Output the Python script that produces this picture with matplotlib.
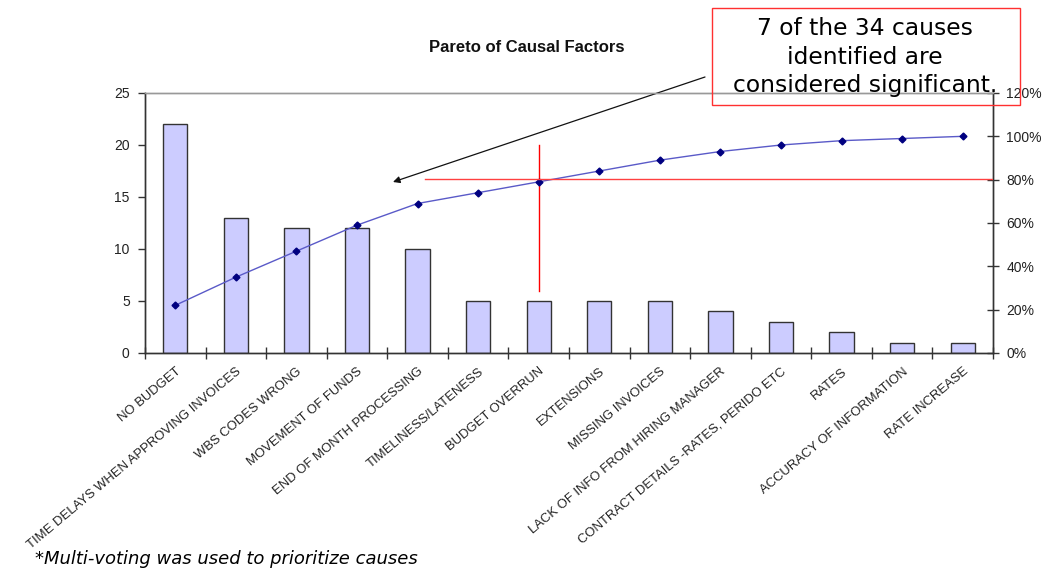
import matplotlib
matplotlib.use("Agg")
import matplotlib.pyplot as plt
from matplotlib.patches import Rectangle
from matplotlib.ticker import FixedLocator, NullFormatter

categories = [
    "NO BUDGET",
    "TIME DELAYS WHEN APPROVING INVOICES",
    "WBS CODES WRONG",
    "MOVEMENT OF FUNDS",
    "END OF MONTH PROCESSING",
    "TIMELINESS/LATENESS",
    "BUDGET OVERRUN",
    "EXTENSIONS",
    "MISSING INVOICES",
    "LACK OF INFO FROM HIRING MANAGER",
    "CONTRACT DETAILS -RATES, PERIDO ETC",
    "RATES",
    "ACCURACY OF INFORMATION",
    "RATE INCREASE",
]
counts = [22, 13, 12, 12, 10, 5, 5, 5, 5, 4, 3, 2, 1, 1]
cumulative_pct = [22, 35, 47, 59, 69, 74, 79, 84, 89, 93, 96, 98, 99, 100]
left_ticks = [0, 5, 10, 15, 20, 25]
right_ticks = [0, 20, 40, 60, 80, 100, 120]

title = "Pareto of Causal Factors"
callout = "7 of the 34 causes\nidentified are\nconsidered significant."
footnote = "*Multi-voting was used to prioritize causes"

TICK_FONT = "Liberation Sans"

fig = plt.figure(figsize=(10.44, 5.71), dpi=100)
ax = fig.add_axes([145 / 1044, 1 - 353 / 571, (993 - 145) / 1044, (353 - 93) / 571])
ax2 = ax.twinx()

x = list(range(len(categories)))
ax.bar(x, counts, width=0.4, color="#CCCCFF", edgecolor="#333333", linewidth=1.0, zorder=2)
ax.set_xlim(-0.5, len(categories) - 0.5)
ax.set_ylim(0, 25)
ax.set_yticks(left_ticks)
ax.set_yticklabels([str(t) for t in left_ticks], fontsize=10, fontname=TICK_FONT, color="#222222")

ax2.plot(x, cumulative_pct, color="#5A5AC8", linewidth=1.0, marker="D",
         markersize=3.5, markerfacecolor="#000080", markeredgecolor="#000080", zorder=3)
ax2.set_ylim(0, 120)
ax2.set_yticks(right_ticks)
ax2.set_yticklabels([f"{t}%" for t in right_ticks], fontsize=10, fontname=TICK_FONT, color="#222222")

# x ticks: labels at category centers, tick marks at boundaries
ax.set_xticks(x)
ax.set_xticklabels(categories, rotation=40, ha="right", rotation_mode="anchor",
                   fontsize=9.4, fontname=TICK_FONT, color="#222222")
ax.tick_params(axis="x", which="major", length=0, pad=9)
ax.xaxis.set_minor_locator(FixedLocator([i + 0.5 for i in range(-1, len(categories))]))
ax.xaxis.set_minor_formatter(NullFormatter())
ax.tick_params(axis="x", which="minor", length=8, direction="inout", color="#333333", width=1)
ax.tick_params(axis="y", length=5, direction="out", color="#333333", width=1, pad=6)
ax2.tick_params(axis="y", length=9, direction="inout", color="#333333", width=1, pad=5)

for a in (ax, ax2):
    for s in ("left", "right", "bottom"):
        a.spines[s].set_color("#333333")
        a.spines[s].set_linewidth(1.0)
    a.spines["top"].set_color("#999999")
    a.spines["top"].set_linewidth(1.0)

# red reference lines
cut_x = 6
ax.plot([cut_x, cut_x], [6, 20], color="#FF0000", linewidth=1.0, zorder=4)
ax2.plot([4.12, len(categories) - 0.5], [80.5, 80.5], color="#FF4040", linewidth=1.0, zorder=4)

# title
fig.text(527 / 1044, 1 - 48 / 571, title, ha="center", va="center",
         fontsize=12, fontweight="bold", fontname=TICK_FONT, color="#111111")

# callout box
fig.patches.append(Rectangle((712 / 1044, 1 - 105 / 571), (1020 - 712) / 1044, (105 - 8) / 571,
                             transform=fig.transFigure, fill=False, edgecolor="#FF3030", linewidth=1.0))
fig.text(865 / 1044, 1 - 57 / 571, callout, ha="center", va="center",
         fontsize=16.8, linespacing=1.32, color="#000000", family="DejaVu Sans")

# arrow
ax.annotate("", xy=(393 / 1044, 1 - 182 / 571), xycoords="figure fraction",
            xytext=(705 / 1044, 1 - 77 / 571), textcoords="figure fraction",
            arrowprops=dict(arrowstyle="-|>", color="#111111", linewidth=0.9,
                            mutation_scale=10, shrinkA=0, shrinkB=0))

# footnote
fig.text(35 / 1044, 1 - 559 / 571, footnote, ha="left", va="center",
         fontsize=13, style="italic", family="DejaVu Sans", color="#000000")

fig.savefig("out.png", dpi=100)
